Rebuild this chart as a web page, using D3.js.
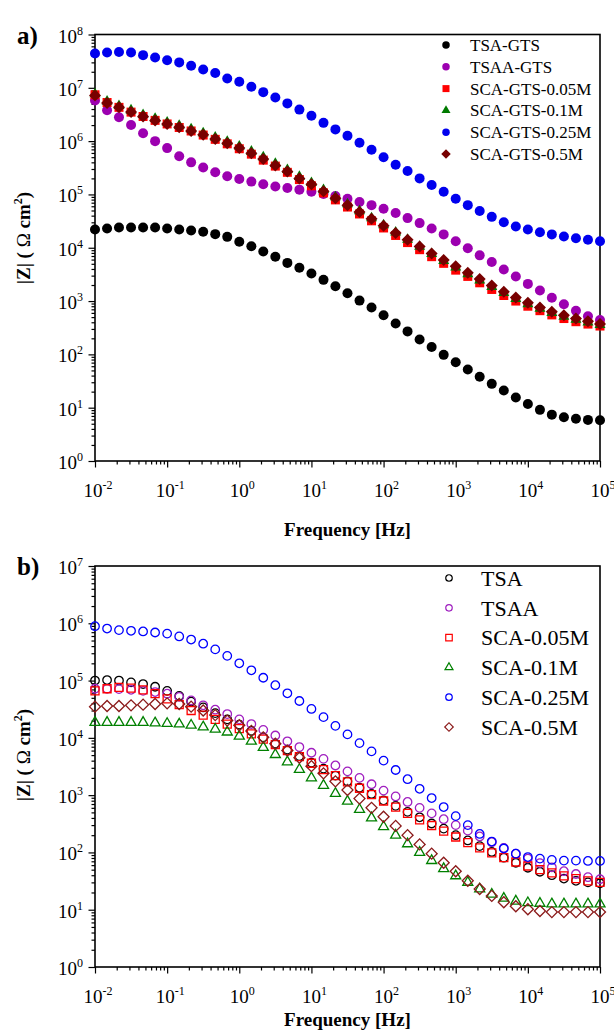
<!DOCTYPE html>
<html><head><meta charset="utf-8">
<script src="https://cdn.jsdelivr.net/npm/d3@7"></script>
<style>
body{margin:0;background:#fff}
svg{display:block}
text{font-family:"Liberation Serif","Times New Roman",serif;fill:#000}
</style>
</head><body>
<svg id="chart" width="614" height="1031"></svg>
<script>
// Frequency (Hz), 6 points per decade, 0.01 Hz .. 100 kHz
const freq = [0.01,0.0147,0.0215,0.0316,0.0464,0.0681,0.1,0.147,0.215,0.316,0.464,0.681,
  1,1.47,2.15,3.16,4.64,6.81,10,14.7,21.5,31.6,46.4,68.1,100,147,215,316,464,681,
  1000,1470,2150,3160,4640,6810,10000,14700,21500,31600,46400,68100,100000];

// Panel a) |Z| (Ohm cm2)
const zTSA_GTS = [2.2e4,2.3e4,2.4e4,2.4e4,2.4e4,2.4e4,2.3e4,2.2e4,2.1e4,2.0e4,1.8e4,1.6e4,
  1.3e4,1.07e4,8.5e3,6.8e3,5.2e3,4.2e3,3.3e3,2.5e3,1.9e3,1.4e3,1.02e3,760,540,380,270,190,138,98,
  71,52,38,28,21,15.5,11.7,9.1,7.4,6.6,6.2,5.9,5.8];
const zTSAA_GTS = [5.8e6,3.8e6,2.8e6,2.0e6,1.41e6,1.0e6,7.4e5,5.2e5,4.0e5,3.2e5,2.6e5,2.2e5,
  1.95e5,1.74e5,1.55e5,1.41e5,1.32e5,1.23e5,1.12e5,1.02e5,9.3e4,8.3e4,7.2e4,6.3e4,5.4e4,4.5e4,3.6e4,2.9e4,2.3e4,1.78e4,
  1.32e4,9.8e3,7.2e3,5.4e3,3.9e3,2.9e3,2.1e3,1.58e3,1.15e3,870,660,520,440];
const zSCA_GTS_005 = [7.4e6,5.3e6,4.3e6,3.5e6,2.9e6,2.45e6,2.1e6,1.8e6,1.55e6,1.3e6,1.08e6,8.9e5,
  7.2e5,5.7e5,4.4e5,3.4e5,2.6e5,1.9e5,1.45e5,1.07e5,7.9e4,5.8e4,4.3e4,3.2e4,2.35e4,1.7e4,1.25e4,9.2e3,6.8e3,5.1e3,
  3.8e3,2.9e3,2.2e3,1.65e3,1.27e3,1.0e3,800,660,550,470,410,370,340];
const zSCA_GTS_01 = [7.6e6,5.6e6,4.6e6,3.8e6,3.1e6,2.65e6,2.25e6,1.95e6,1.68e6,1.42e6,1.18e6,9.8e5,
  8.0e5,6.4e5,5.0e5,3.8e5,2.9e5,2.15e5,1.65e5,1.22e5,8.9e4,6.6e4,4.9e4,3.6e4,2.65e4,1.95e4,1.42e4,1.05e4,7.7e3,5.7e3,
  4.3e3,3.2e3,2.45e3,1.85e3,1.42e3,1.1e3,880,720,600,510,450,400,360];
const zSCA_GTS_025 = [4.4e7,4.6e7,4.7e7,4.6e7,4.1e7,3.7e7,3.3e7,3.0e7,2.6e7,2.2e7,1.9e7,1.5e7,
  1.3e7,1.05e7,8.3e6,6.6e6,5.1e6,3.9e6,3.0e6,2.2e6,1.66e6,1.26e6,9.3e5,6.9e5,5.0e5,3.6e5,2.75e5,2.0e5,1.5e5,1.12e5,
  8.3e4,6.3e4,4.9e4,3.8e4,3.0e4,2.5e4,2.2e4,1.95e4,1.78e4,1.62e4,1.51e4,1.41e4,1.32e4];
const zSCA_GTS_05 = [7.2e6,5.2e6,4.3e6,3.5e6,2.9e6,2.45e6,2.1e6,1.82e6,1.55e6,1.32e6,1.1e6,9.1e5,
  7.4e5,5.9e5,4.6e5,3.5e5,2.7e5,2.0e5,1.55e5,1.15e5,8.5e4,6.3e4,4.7e4,3.5e4,2.6e4,1.9e4,1.41e4,1.05e4,7.8e3,5.9e3,
  4.5e3,3.4e3,2.6e3,1.95e3,1.5e3,1.17e3,930,760,630,540,470,420,370];

// Panel b) |Z| (Ohm cm2)
const zTSA = [1.0e5,1.02e5,1.0e5,9.3e4,8.7e4,7.8e4,6.6e4,5.4e4,4.3e4,3.4e4,2.7e4,2.1e4,
  1.7e4,1.32e4,1.02e4,7.9e3,6.2e3,4.8e3,3.7e3,2.9e3,2.2e3,1.74e3,1.35e3,1.05e3,810,650,510,410,320,260,
  200,162,129,102,81,66,54,46,40,35,32,30,29];
const zTSAA = [7.2e4,7.2e4,7.1e4,6.9e4,6.6e4,6.3e4,5.9e4,5.2e4,4.5e4,3.7e4,3.1e4,2.6e4,
  2.1e4,1.74e4,1.38e4,1.1e4,8.7e3,6.9e3,5.5e3,4.3e3,3.3e3,2.6e3,2.0e3,1.55e3,1.2e3,950,760,600,480,380,
  300,240,190,151,120,95,78,65,55,47,42,37,34];
const zSCA_005 = [6.6e4,7.2e4,7.6e4,7.4e4,6.9e4,5.9e4,4.8e4,3.8e4,3.0e4,2.5e4,2.1e4,1.74e4,
  1.45e4,1.17e4,9.5e3,7.6e3,6.0e3,4.7e3,3.6e3,2.8e3,2.2e3,1.7e3,1.32e3,1.02e3,790,620,480,370,295,235,
  186,148,120,98,81,68,58,50,44,39,35,32,30];
const zSCA_01 = [1.86e4,1.86e4,1.86e4,1.86e4,1.86e4,1.82e4,1.78e4,1.74e4,1.66e4,1.55e4,1.41e4,1.26e4,
  1.07e4,8.7e3,6.8e3,5.1e3,3.8e3,2.8e3,2.0e3,1.48e3,1.07e3,780,560,400,280,200,141,100,72,52,
  39,30,23,18.6,15.8,14.1,13.2,12.9,12.6,12.6,12.6,12.6,12.6];
const zSCA_025 = [8.9e5,8.1e5,7.6e5,7.4e5,7.2e5,6.9e5,6.6e5,5.9e5,5.2e5,4.4e5,3.5e5,2.7e5,
  2.0e5,1.51e5,1.12e5,8.3e4,6.0e4,4.4e4,3.2e4,2.3e4,1.62e4,1.15e4,8.1e3,5.8e3,4.0e3,2.75e3,1.9e3,1.29e3,890,620,
  430,300,210,155,117,95,83,78,74,72,72,71,71];
const zSCA_05 = [3.5e4,3.6e4,3.6e4,3.7e4,3.8e4,3.9e4,4.0e4,3.9e4,3.5e4,3.0e4,2.5e4,2.0e4,
  1.66e4,1.32e4,1.02e4,7.9e3,6.0e3,4.5e3,3.2e3,2.4e3,1.74e3,1.23e3,870,600,420,290,200,138,95,66,
  47,32,23,17.4,13.5,11.5,10.2,9.5,9.1,9.1,9.1,9.1,9.1];

const namesA = ["TSA-GTS","TSAA-GTS","SCA-GTS-0.05M","SCA-GTS-0.1M","SCA-GTS-0.25M","SCA-GTS-0.5M"];
const namesB = ["TSA","TSAA","SCA-0.05M","SCA-0.1M","SCA-0.25M","SCA-0.5M"];
const colorsA = ["#000000","#9c00b0","#ff0000","#007a00","#0000ee","#780000"];
const colorsB = ["#000000","#a020c0","#ff0000","#008000","#0000ff","#8b1a1a"];
const shapes = ["circle","circle","square","triangle","circle","diamond"];

const xTickExp = [-2,-1,0,1,2,3,4,5];
const yTickExpA = [0,1,2,3,4,5,6,7,8];
const yTickExpB = [0,1,2,3,4,5,6,7];

const svg = d3.select("#chart");

function symbolPath(shape, size) {
  if (shape === "circle") return d3.symbol(d3.symbolCircle, Math.PI * (size/2) * (size/2))();
  if (shape === "square") return d3.symbol(d3.symbolSquare, size * size)();
  if (shape === "triangle") return d3.symbol(d3.symbolTriangle, Math.sqrt(3)/4 * size * size)();
  if (shape === "diamond") { const s = size / Math.SQRT2; return d3.symbol(d3.symbolSquare, s * s)(); }
}

function drawPanel(o) {
  const g = svg.append("g");
  const x = d3.scaleLog().domain([1e-2, 1e5]).range([o.left, o.right]);
  const y = d3.scaleLog().domain([1, Math.pow(10, o.maxExp)]).range([o.bottom, o.top]);

  const minorX = [];
  for (let e = -2; e < 5; e++) for (let m = 2; m <= 9; m++) minorX.push(m * Math.pow(10, e));
  const minorY = [];
  for (let e = 0; e < o.maxExp; e++) for (let m = 2; m <= 9; m++) minorY.push(m * Math.pow(10, e));

  const ax = g.append("g").attr("transform", `translate(0,${o.bottom})`);
  ax.call(d3.axisBottom(x).tickValues(minorX).tickSize(3.5).tickFormat(""));
  ax.append("g").call(d3.axisBottom(x).tickValues(xTickExp.map(e => Math.pow(10, e))).tickSize(6.5).tickFormat(""));
  const ay = g.append("g").attr("transform", `translate(${o.left},0)`);
  ay.call(d3.axisLeft(y).tickValues(minorY).tickSize(3.5).tickFormat(""));
  ay.append("g").call(d3.axisLeft(y).tickValues(o.yExp.map(e => Math.pow(10, e))).tickSize(6.5).tickFormat(""));
  g.selectAll(".domain").remove();
  g.selectAll(".tick line").attr("stroke", "#000").attr("stroke-width", 1.2);

  g.append("rect").attr("x", o.left).attr("y", o.top)
    .attr("width", o.right - o.left).attr("height", o.bottom - o.top)
    .attr("fill", "none").attr("stroke", "#000").attr("stroke-width", 1.6);

  xTickExp.forEach(e => {
    const t = g.append("text").attr("x", x(Math.pow(10, e)) + 3).attr("y", o.bottom + 36)
      .attr("text-anchor", "middle").attr("font-size", 19);
    t.append("tspan").text("10");
    t.append("tspan").attr("font-size", 12).attr("dy", -8).text(String(e));
  });
  o.yExp.forEach(e => {
    const t = g.append("text").attr("x", o.left - 12).attr("y", y(Math.pow(10, e)) + 8)
      .attr("text-anchor", "end").attr("font-size", 19);
    t.append("tspan").text("10");
    t.append("tspan").attr("font-size", 12).attr("dy", -8).text(String(e));
  });

  g.append("text").attr("x", (o.left + o.right) / 2).attr("y", o.xTitleY)
    .attr("text-anchor", "middle").attr("font-size", 19).attr("font-weight", "bold").text("Frequency [Hz]");
  const yl = g.append("text").attr("transform", `translate(30,${o.yTitleC}) rotate(-90)`)
    .attr("text-anchor", "middle").attr("font-size", 19).attr("font-weight", "bold");
  yl.append("tspan").text("|Z| ( ");
  yl.append("tspan").attr("font-weight", "normal").text("Ω");
  yl.append("tspan").text(" cm");
  yl.append("tspan").attr("font-size", 12).attr("dy", -8).text("2");
  yl.append("tspan").attr("dy", 8).text(")");

  g.append("text").attr("x", 17).attr("y", o.top + 9).attr("font-size", 25).attr("font-weight", "bold").text(o.letter);

  o.series.forEach((s, i) => {
    const gs = g.append("g");
    gs.selectAll("path").data(freq.map((f, k) => [f, s[k]])).join("path")
      .attr("d", symbolPath(shapes[i], o.sizes[i]))
      .attr("transform", d => `translate(${x(d[0])},${y(d[1])})${shapes[i] === "diamond" ? " rotate(45)" : ""}`)
      .attr("fill", o.filled ? o.colors[i] : "none")
      .attr("stroke", o.filled ? "none" : o.colors[i])
      .attr("stroke-width", o.filled ? 0 : 1.3);
  });

  o.names.forEach((n, i) => {
    const yy = o.legY + i * o.legStep;
    g.append("path").attr("d", symbolPath(shapes[i], o.legSizes[i]))
      .attr("transform", `translate(${o.legMx},${yy})${shapes[i] === "diamond" ? " rotate(45)" : ""}`)
      .attr("fill", o.filled ? o.colors[i] : "none")
      .attr("stroke", o.filled ? "none" : o.colors[i])
      .attr("stroke-width", o.filled ? 0 : 1.2);
    g.append("text").attr("x", o.legTx).attr("y", yy).attr("dy", "0.35em")
      .attr("font-size", o.legFont).text(n);
  });
}

drawPanel({
  letter: "a)", left: 95, right: 600, top: 34.5, bottom: 461, maxExp: 8, yExp: yTickExpA,
  xTitleY: 536, yTitleC: 238,
  series: [zTSA_GTS, zTSAA_GTS, zSCA_GTS_005, zSCA_GTS_01, zSCA_GTS_025, zSCA_GTS_05],
  names: namesA, colors: colorsA, filled: true,
  sizes: [10, 10, 9, 11, 10, 12], legSizes: [7.5, 7.5, 7, 9, 7.5, 9.5],
  legY: 45, legStep: 21.8, legMx: 446, legTx: 470, legFont: 17
});
drawPanel({
  letter: "b)", left: 95, right: 600, top: 566, bottom: 967, maxExp: 7, yExp: yTickExpB,
  xTitleY: 1026, yTitleC: 755,
  series: [zTSA, zTSAA, zSCA_005, zSCA_01, zSCA_025, zSCA_05],
  names: namesB, colors: colorsB, filled: false,
  sizes: [8.5, 8.5, 8, 10, 8.5, 11], legSizes: [6.5, 6.5, 6.5, 8, 6.5, 8.5],
  legY: 578, legStep: 29.8, legMx: 449, legTx: 481, legFont: 22
});
</script>
</body></html>
